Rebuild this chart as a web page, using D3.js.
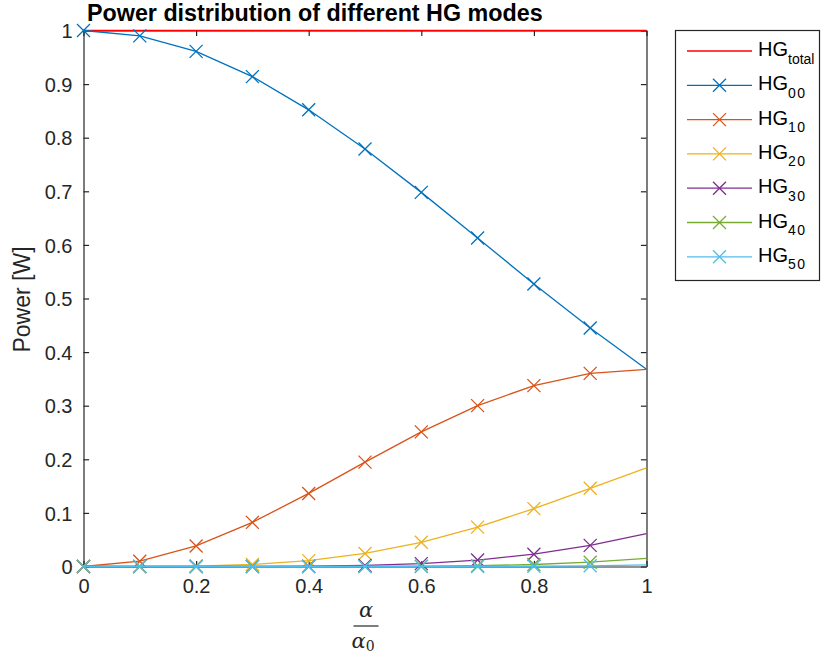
<!DOCTYPE html>
<html>
<head>
<meta charset="utf-8">
<script src="https://cdn.jsdelivr.net/npm/d3@7"></script>
<style>
  body { margin: 0; background: #fff; }
  svg { display: block; font-family: "Liberation Sans", Arial, Helvetica, sans-serif; }
</style>
</head>
<body>
<div id="chart"></div>
<script>
// ---- data ----
const xValues = [0, 0.1, 0.2, 0.3, 0.4, 0.5, 0.6, 0.7, 0.8, 0.9, 1.0];
const hgTotal = [1, 1, 1, 1, 1, 1, 1, 1, 1, 1, 1];
const hg00 = [1.0, 0.990, 0.961, 0.914, 0.852, 0.779, 0.698, 0.613, 0.527, 0.445, 0.368];
const hg10 = [0, 0.0099, 0.0384, 0.0823, 0.1363, 0.1947, 0.2512, 0.3002, 0.3375, 0.3603, 0.3679];
const hg20 = [0, 0.00005, 0.0008, 0.0037, 0.0109, 0.0243, 0.0452, 0.0735, 0.1080, 0.1459, 0.1839];
const hg30 = [0, 0, 0.00001, 0.0001, 0.0006, 0.0020, 0.0054, 0.0120, 0.0230, 0.0394, 0.0613];
const hg40 = [0, 0, 0, 0, 0.00002, 0.0001, 0.0005, 0.0015, 0.0037, 0.0080, 0.0153];
const hg50 = [0, 0, 0, 0, 0, 0, 0.00004, 0.0001, 0.0005, 0.0013, 0.0031];
const seriesNames = ["total", "00", "10", "20", "30", "40", "50"];
const seriesColors = ["#FF0000", "#0072BD", "#D95319", "#EDB120", "#7E2F8E", "#77AC30", "#4DBEEE"];
const seriesValues = [hgTotal, hg00, hg10, hg20, hg30, hg40, hg50];
const seriesMarkers = [false, true, true, true, true, true, true];
const markerCount = 10; // markers on the first 10 samples
const xTicks = [0, 0.2, 0.4, 0.6, 0.8, 1];
const yTicks = [0, 0.1, 0.2, 0.3, 0.4, 0.5, 0.6, 0.7, 0.8, 0.9, 1];
const titleText = "Power distribution of different HG modes";
const yLabelText = "Power [W]";

// ---- layout ----
const W = 821, H = 657;
const L = 83.5, R = 646.5, T = 30.5, B = 566.5;
const axisColor = "#262626";

const svg = d3.select("#chart").append("svg").attr("width", W).attr("height", H);

const x = d3.scaleLinear().domain([0, 1]).range([L, R]);
const y = d3.scaleLinear().domain([0, 1]).range([B, T]);

// title
svg.append("text").attr("x", 87).attr("y", 21)
  .attr("font-size", 23.3).attr("font-weight", "bold").attr("fill", "#000")
  .text(titleText);

// axes
const tickLen = 5.6;
const fmt = d => (d === 0 || d === 1) ? String(d) : d3.format(".1f")(d);

const gx = svg.append("g").attr("transform", `translate(0,${B})`)
  .call(d3.axisBottom(x).tickValues(xTicks).tickFormat(fmt).tickSizeInner(-tickLen).tickSizeOuter(0).tickPadding(12));
const gxTop = svg.append("g").attr("transform", `translate(0,${T})`)
  .call(d3.axisTop(x).tickValues(xTicks).tickFormat("").tickSizeInner(-tickLen).tickSizeOuter(0));
const gy = svg.append("g").attr("transform", `translate(${L},0)`)
  .call(d3.axisLeft(y).tickValues(yTicks).tickFormat(fmt).tickSizeInner(-tickLen).tickSizeOuter(0).tickPadding(11));
const gyR = svg.append("g").attr("transform", `translate(${R},0)`)
  .call(d3.axisRight(y).tickValues(yTicks).tickFormat("").tickSizeInner(-tickLen).tickSizeOuter(0));

[gx, gxTop, gy, gyR].forEach(g => {
  g.select(".domain").attr("stroke", axisColor).attr("stroke-width", 1.2);
  g.selectAll(".tick line").attr("stroke", axisColor).attr("stroke-width", 1.2);
  g.selectAll(".tick text").attr("fill", axisColor).attr("font-size", 20)
    .attr("font-family", "'Liberation Sans', Arial, Helvetica, sans-serif");
});
gx.selectAll(".tick text").attr("dy", "0.71em");
gy.selectAll(".tick text").attr("dy", "0.36em");

// series
const line = d3.line().x((d, i) => x(xValues[i])).y(d => y(d));
const plot = svg.append("g");
function xMarker(g, cx, cy, s, color) {
  g.append("path")
    .attr("d", `M${cx - s},${cy - s}L${cx + s},${cy + s}M${cx - s},${cy + s}L${cx + s},${cy - s}`)
    .attr("stroke", color).attr("stroke-width", 1.3).attr("fill", "none");
}
seriesValues.forEach((vals, k) => {
  const c = seriesColors[k];
  plot.append("path").datum(vals).attr("d", line)
    .attr("fill", "none").attr("stroke", c).attr("stroke-width", k === 0 ? 1.6 : 1.3);
  if (seriesMarkers[k]) {
    vals.slice(0, markerCount).forEach((v, i) => xMarker(plot, x(xValues[i]), y(v), 6.5, c));
  }
});

// y label
svg.append("text")
  .attr("transform", `translate(30,${(T + B) / 2 + 1}) rotate(-90)`)
  .attr("text-anchor", "middle").attr("font-size", 23).attr("fill", axisColor)
  .text(yLabelText);

// x label: fraction alpha / alpha_0
const cx = (L + R) / 2 + 1;
const frac = svg.append("g").attr("fill", axisColor)
  .attr("font-family", "'DejaVu Serif', 'Liberation Serif', serif").attr("font-style", "italic");
frac.append("text").attr("x", cx).attr("y", 617).attr("text-anchor", "middle").attr("font-size", 21).text("α");
svg.append("line").attr("x1", cx - 12.5).attr("x2", cx + 12.5).attr("y1", 626).attr("y2", 626)
  .attr("stroke", axisColor).attr("stroke-width", 1.2);
const den = frac.append("text").attr("x", cx - 3).attr("y", 648).attr("text-anchor", "middle").attr("font-size", 21);
den.append("tspan").text("α");
den.append("tspan").attr("font-style", "normal").attr("font-size", 14).attr("dy", 3).text("0");

// legend
const lg = svg.append("g");
lg.append("rect").attr("x", 675.5).attr("y", 30.5).attr("width", 144).attr("height", 250)
  .attr("fill", "#fff").attr("stroke", axisColor).attr("stroke-width", 1.2);
const rowYs = seriesNames.map((n, i) => 51 + i * 34.3);
seriesNames.forEach((n, i) => {
  const ry = rowYs[i];
  lg.append("line").attr("x1", 687).attr("x2", 752).attr("y1", ry).attr("y2", ry)
    .attr("stroke", seriesColors[i]).attr("stroke-width", 1.3);
  if (seriesMarkers[i]) xMarker(lg, 719.5, ry, 6.5, seriesColors[i]);
  const t = lg.append("text").attr("x", 758).attr("y", ry + 5).attr("font-size", 20).attr("fill", "#000");
  t.append("tspan").text("HG");
  t.append("tspan").attr("font-size", 14).attr("dy", 7.5)
    .attr("letter-spacing", n === "total" ? 0 : 1.5).text(n);
});
</script>
</body>
</html>
